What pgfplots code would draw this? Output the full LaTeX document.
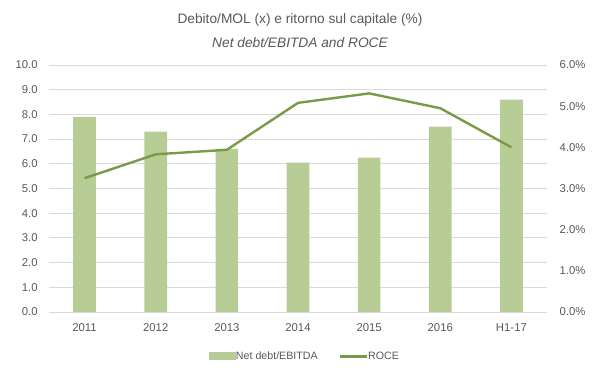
\documentclass[border=0pt]{standalone}
\usepackage{pgfplots}
\pgfplotsset{compat=1.18}
\usepackage{fontspec}
\setmainfont{Liberation Sans}
\definecolor{barc}{HTML}{B8CC96}
\definecolor{linec}{HTML}{7A9A48}
\definecolor{gridc}{HTML}{D9D9D9}
\definecolor{txt}{HTML}{595959}
\begin{document}
\begin{tikzpicture}[x=1pt,y=1pt]
\useasboundingbox (0,0) rectangle (450,283.5);
\pgfplotsset{
  base/.style={
    scale only axis, width=373.5pt, height=185.25pt,
    at={(36.75pt,49.5pt)}, anchor=south west,
    xmin=-0.5, xmax=6.5, xtick={0,...,6},
    xticklabels={2011,2012,2013,2014,2015,2016,H1-17},
    axis line style={draw=none}, major tick length=0pt,
    ymin=0,
    tick label style={font=\fontsize{8.5}{10}\selectfont, text=txt},
    /pgf/number format/assume math mode=true,
  }
}
\begin{axis}[base,
  ymax=10, ytick={0,1,...,10},
  ymajorgrids, grid style={gridc, line width=0.7pt},
  yticklabel={\pgfmathprintnumber[fixed,fixed zerofill,precision=1]{\tick}},
  xticklabel style={yshift=-5pt},
  yticklabel style={xshift=-5pt},
]
\addplot[ybar, bar width=17pt, fill=barc, draw=none] coordinates {
(0,7.9) (1,7.3) (2,6.6) (3,6.05) (4,6.25) (5,7.5) (6,8.6)};
\end{axis}
\begin{axis}[base,
  ymax=6, ytick={0,1,...,6},
  axis y line*=right, axis x line=none,
  yticklabel={\pgfmathprintnumber[fixed,fixed zerofill,precision=1]{\tick}\%},
  yticklabel style={xshift=6pt},
  legend style={at={(0.515,-0.18)}, anchor=center, draw=none, fill=none,
    legend columns=2, font=\fontsize{8}{10}\selectfont\color{txt},
    /tikz/every odd column/.append style={column sep=-2pt},
    /tikz/every even column/.append style={column sep=14pt}},
  legend cell align=left,
]
\addlegendimage{area legend, fill=barc, draw=none, legend image code/.code={\fill[barc] (0pt,-3pt) rectangle (20pt,3pt);}}
\addlegendentry{Net debt/EBITDA}
\addplot[linec, line width=1.8pt, legend image code/.code={\draw[linec, line width=1.8pt] (0pt,0pt) -- (20pt,0pt);}] coordinates {
(0,3.25) (1,3.83) (2,3.94) (3,5.08) (4,5.31) (5,4.95) (6,4.0)};
\addlegendentry{ROCE}
\end{axis}
\node[text=txt, font=\fontsize{10.3}{12}\selectfont] at (225,268.5) {Debito/MOL (x) e ritorno sul capitale (\%)};
\node[text=txt, font=\fontsize{10.3}{12}\selectfont\itshape] at (225,251.25) {Net debt/EBITDA and ROCE};
\end{tikzpicture}
\end{document}
